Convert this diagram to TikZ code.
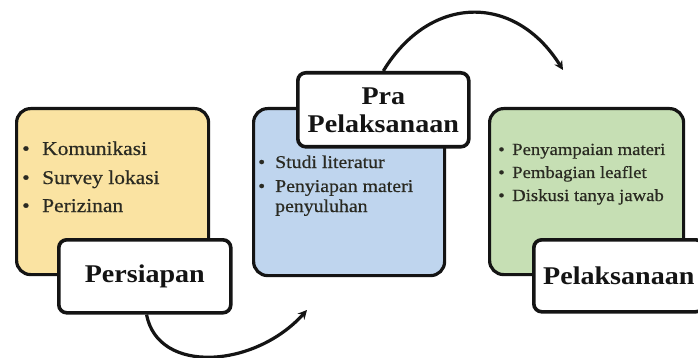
\documentclass[tikz,border=0pt]{standalone}
\usepackage{fontspec}
\setmainfont[FakeStretch=1.1]{Liberation Serif}
\newfontfamily\itemfont[FakeStretch=1.1,FakeBold=0.6]{Liberation Serif}
\usetikzlibrary{arrows.meta,calc}
\definecolor{yelfill}{HTML}{FAE3A2}
\definecolor{bluefill}{HTML}{BFD5EE}
\definecolor{grnfill}{HTML}{C6DFB4}
\definecolor{ink}{HTML}{141414}
\definecolor{itemink}{HTML}{2A2A22}
\tikzset{
  bigbox/.style={draw=ink, line width=3.2pt, rounded corners=14pt, anchor=north west, inner sep=0pt},
  labelbox/.style={draw=ink, fill=white, line width=3.6pt, rounded corners=8pt, anchor=north west, inner sep=0pt, text=ink, align=center},
  itemline/.style={anchor=base west, inner sep=0pt, text=itemink},
  flowarrow/.style={draw=ink, line width=3.2pt, -{Stealth[length=9pt,width=9pt]}}
}
\newcommand{\bul}[1]{\makebox[#1][l]{\textbullet}}
\begin{document}
\begin{tikzpicture}[x=1pt,y=-1pt]
\useasboundingbox (0,0) rectangle (698,358);
\fill[white] (0,0) rectangle (698,358);
% big boxes
\node[bigbox, fill=yelfill, minimum width=192pt, minimum height=166pt] (ybox) at (15,107) {};
\node[bigbox, fill=bluefill, minimum width=191pt, minimum height=167pt] (bbox) at (252,107) {};
\node[bigbox, fill=grnfill, minimum width=194pt, minimum height=166pt] (gbox) at (488,107) {};
% yellow items
\begin{scope}[every node/.append style={font=\itemfont\fontsize{19.5pt}{24pt}\selectfont}]
\node[itemline] (y1) at (22,155) {\bul{20pt}Komunikasi};
\node[itemline] (y2) at (22,184) {\bul{20pt}Survey lokasi};
\node[itemline] (y3) at (22,212) {\bul{20pt}Perizinan};
\end{scope}
% blue items
\begin{scope}[every node/.append style={font=\itemfont\fontsize{18pt}{22pt}\selectfont}]
\node[itemline] (b1) at (258,168) {\bul{17pt}Studi literatur};
\node[itemline] (b2) at (258,192) {\bul{17pt}Penyiapan materi};
\node[itemline] (b3) at (275,212) {penyuluhan};
\end{scope}
% green items
\begin{scope}[every node/.append style={font=\itemfont\fontsize{17pt}{21pt}\selectfont}]
\node[itemline] (g1) at (498,155) {\bul{14pt}Penyampaian materi};
\node[itemline] (g2) at (498,178) {\bul{14pt}Pembagian leaflet};
\node[itemline] (g3) at (498,201) {\bul{14pt}Diskusi tanya jawab};
\end{scope}
% label boxes
\node[labelbox, minimum width=172pt, minimum height=73pt, font=\bfseries\fontsize{25.5pt}{28pt}\selectfont] (lab1) at (57,238) {Persiapan};
\node[labelbox, minimum width=171pt, minimum height=74pt, font=\bfseries\fontsize{25.5pt}{28pt}\selectfont] (lab2) at (296,71) {Pra\\Pelaksanaan};
\node[labelbox, minimum width=170pt, minimum height=72pt, font=\bfseries\fontsize{25.5pt}{28pt}\selectfont] (lab3) at (532,238) {Pelaksanaan};
% arrows
\coordinate (s1) at ($(lab1.south west)!0.51!(lab1.south east)$);
\coordinate (t1) at (307,310);
\coordinate (s2) at ($(lab2.north west)!0.50!(lab2.north east)$);
\coordinate (t2) at (563,70);
\draw[flowarrow] (s1) .. controls (158,375) and (255,368) .. (t1);
\draw[flowarrow] (s2) .. controls (430,-6) and (515,-7) .. (t2);
\end{tikzpicture}
\end{document}
